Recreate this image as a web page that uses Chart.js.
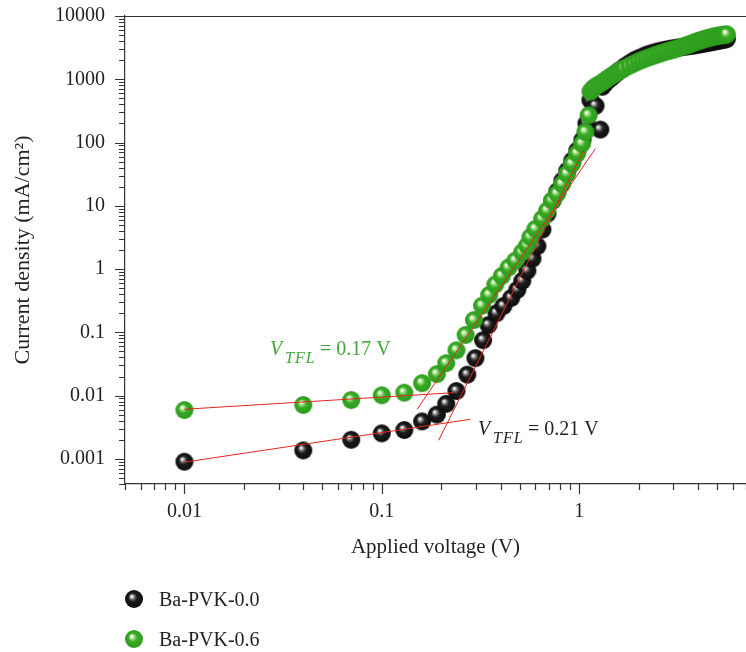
<!DOCTYPE html>
<html lang="en">
<head>
<meta charset="UTF-8">
<title>Current density vs applied voltage</title>
<script src="https://cdn.jsdelivr.net/npm/chart.js"></script>
<style>
  body { margin: 0; background: #fff; }
  .wrap { position: relative; width: 746px; height: 652px; }
  #jv { position: absolute; left: 0; top: 0; }
  .legend {
    position: absolute; left: 124px; top: 586px;
    font-family: 'Liberation Serif', 'DejaVu Serif', serif;
    font-size: 20px; color: #231f20;
  }
  .legend-item { display: flex; align-items: center; height: 26px; margin-bottom: 14px; }
  .legend-item canvas { margin-right: 15px; }
</style>
</head>
<body>
<div class="wrap">
  <canvas id="jv" width="746" height="652"></canvas>
  <div class="legend">
    <div class="legend-item"><canvas id="icon0" width="20" height="20"></canvas><span>Ba-PVK-0.0</span></div>
    <div class="legend-item"><canvas id="icon1" width="20" height="20"></canvas><span>Ba-PVK-0.6</span></div>
  </div>
</div>
<script>
// axis ticks
const xTicks = [0.01, 0.1, 1];
const xTickLabels = ['0.01', '0.1', '1'];
const yTicks = [0.001, 0.01, 0.1, 1, 10, 100, 1000, 10000];
const yTickLabels = ['0.001', '0.01', '0.1', '1', '10', '100', '1000', '10000'];

// Ba-PVK-0.0 (black)
const blackV = [0.01, 0.04, 0.07, 0.10, 0.13, 0.16, 0.19, 0.212, 0.239, 0.271, 0.298, 0.326, 0.347, 0.381, 0.413,
  0.453, 0.486, 0.515, 0.546, 0.58, 0.614, 0.651, 0.69, 0.732, 0.776, 0.822, 0.871, 0.923, 0.979, 1.038, 1.088,
  1.14, 1.21, 1.28, 1.31, 1.35, 1.4, 1.45, 1.5, 1.55, 1.6, 1.7, 1.8, 1.9, 2.0, 2.1, 2.2, 2.3, 2.4, 2.5, 2.6, 2.7, 2.8, 2.9, 3.0,
  3.1, 3.2, 3.3, 3.4, 3.5, 3.6, 3.7, 3.8, 3.9, 4.0, 4.1, 4.2, 4.3, 4.4, 4.5, 4.6, 4.7, 4.8, 4.9, 5.0, 5.1, 5.2,
  5.3, 5.4, 5.5, 5.6];
const blackJ = [0.0009, 0.00136, 0.002, 0.00253, 0.00285, 0.0039, 0.005, 0.0074, 0.0118, 0.0214, 0.039, 0.075, 0.13, 0.2, 0.26,
  0.35, 0.47, 0.65, 0.94, 1.46, 2.3, 4.2, 7.5, 12, 17, 25, 36, 52, 75, 110, 200,
  466, 380, 160, 760, 860, 960, 1050, 1150, 1260, 1380, 1600, 1800, 2000, 2150, 2300, 2450, 2550, 2650, 2750, 2830, 2900, 2970, 3030, 3080,
  3130, 3180, 3230, 3270, 3310, 3350, 3390, 3430, 3480, 3530, 3580, 3630, 3680, 3730, 3780, 3830, 3880, 3930, 3980, 4030, 4080, 4130,
  4180, 4230, 4280, 4330];

// Ba-PVK-0.6 (green)
const greenV = [0.01, 0.04, 0.07, 0.10, 0.13, 0.16, 0.19, 0.212, 0.239, 0.266, 0.293, 0.322, 0.35, 0.376, 0.406,
  0.439, 0.475, 0.514, 0.545, 0.566, 0.60, 0.649, 0.688, 0.729, 0.773, 0.819, 0.868, 0.92, 0.976, 1.034, 1.075,
  1.117, 1.14, 1.17, 1.2, 1.25, 1.3, 1.35, 1.4, 1.45, 1.5, 1.55, 1.6, 1.65, 1.7, 1.8, 1.9, 2.0, 2.1, 2.2, 2.3, 2.4, 2.5, 2.6, 2.7, 2.8, 2.9, 3.0,
  3.1, 3.2, 3.3, 3.4, 3.5, 3.6, 3.7, 3.8, 3.9, 4.0, 4.1, 4.2, 4.3, 4.4, 4.5, 4.6, 4.7, 4.8, 4.9, 5.0, 5.1, 5.2,
  5.3, 5.4, 5.5, 5.6];
const greenJ = [0.0059, 0.0071, 0.0085, 0.0101, 0.0111, 0.0157, 0.0218, 0.0325, 0.052, 0.091, 0.156, 0.263, 0.39, 0.57, 0.78,
  1.06, 1.36, 1.84, 2.35, 3.2, 4.3, 6.2, 8.4, 12.1, 15.5, 22, 32, 46, 67, 96, 147,
  270, 640, 700, 760, 820, 880, 960, 1040, 1120, 1200, 1280, 1360, 1430, 1500, 1640, 1780, 1920, 2040, 2160, 2270, 2380, 2480, 2580, 2680, 2780, 2860, 2940,
  3040, 3140, 3240, 3340, 3440, 3540, 3660, 3780, 3900, 4000, 4100, 4200, 4300, 4390, 4480, 4560, 4640, 4720, 4790, 4850, 4900, 4950,
  5000, 5040, 5080, 5120];

// fitted lines (end points)
const fitGreenLowV = [0.01, 0.231], fitGreenLowJ = [0.00607, 0.0111];
const fitGreenHighV = [0.151, 1.208], fitGreenHighJ = [0.00607, 80];
const fitBlackLowV = [0.01, 0.281], fitBlackLowJ = [0.000885, 0.00421];
const fitBlackHighV = [0.194, 1.054], fitBlackHighJ = [0.00196, 75];

const pts = (xs, ys) => xs.map((v, i) => ({ x: v, y: ys[i] }));
const FONT = "'Liberation Serif', 'DejaVu Serif', serif";
const INK = '#231f20';
const RED = '#e5261d';

// shaded ball markers
function drawSphere(g, cx, cy, r, stops) {
  const grad = g.createRadialGradient(cx - r * 0.28, cy - r * 0.32, 0, cx, cy, r);
  stops.forEach(s => grad.addColorStop(s[0], s[1]));
  g.fillStyle = grad;
  g.beginPath();
  g.arc(cx, cy, r, 0, Math.PI * 2);
  g.fill();
}
const blackStops = [[0, '#ffffff'], [0.1, '#e6e6e6'], [0.28, '#707070'], [0.48, '#1c1c1c'], [1, '#0c0c0c']];
const greenStops = [[0, '#ffffff'], [0.1, '#effbe8'], [0.28, '#94d878'], [0.5, '#38a925'], [1, '#2d9c1d']];
function sphere(stops, r) {
  const c = document.createElement('canvas');
  c.width = c.height = Math.ceil(r * 2 + 2);
  drawSphere(c.getContext('2d'), c.width / 2, c.height / 2, r, stops);
  return c;
}
const blackBall = sphere(blackStops, 9);
const greenBall = sphere(greenStops, 9);
drawSphere(document.getElementById('icon0').getContext('2d'), 10, 10, 9, blackStops);
drawSphere(document.getElementById('icon1').getContext('2d'), 10, 10, 9, greenStops);

// frame top line + log tick marks drawn outward
const tickMarks = {
  id: 'tickMarks',
  afterDraw(chart) {
    const { ctx, chartArea: a, scales: { x, y } } = chart;
    ctx.save();
    ctx.strokeStyle = '#333';
    ctx.lineWidth = 1.2;
    ctx.beginPath();
    ctx.moveTo(a.left, a.top + 0.5);
    ctx.lineTo(a.right, a.top + 0.5);
    for (let e = -4; e <= 4; e++) {
      for (let m = 1; m <= 9; m++) {
        const v = m * Math.pow(10, e);
        const len = m === 1 ? 10 : 6;
        if (v >= y.min * 0.9999 && v <= y.max * 1.0001) {
          const py = Math.round(y.getPixelForValue(v)) + 0.5;
          ctx.moveTo(a.left - len, py);
          ctx.lineTo(a.left, py);
        }
        if (v >= x.min * 0.9999 && v <= x.max * 1.0001) {
          const px = Math.round(x.getPixelForValue(v)) + 0.5;
          ctx.moveTo(px, a.bottom);
          ctx.lineTo(px, a.bottom + len);
        }
      }
    }
    ctx.stroke();
    ctx.restore();
  }
};

function drawVtfl(ctx, x, y, val, color) {
  ctx.save();
  ctx.fillStyle = color;
  ctx.textAlign = 'left';
  ctx.textBaseline = 'alphabetic';
  ctx.font = 'italic 20px ' + FONT;
  ctx.fillText('V', x, y);
  ctx.font = 'italic 16px ' + FONT;
  ctx.letterSpacing = '1px';
  ctx.fillText('TFL', x + 15, y + 8);
  ctx.letterSpacing = '0px';
  ctx.font = '20px ' + FONT;
  ctx.fillText('= ' + val + ' V', x + 50, y);
  ctx.restore();
}
const notes = {
  id: 'notes',
  afterDraw(chart) {
    drawVtfl(chart.ctx, 270, 355, '0.17', '#3fa535');
    drawVtfl(chart.ctx, 478, 435, '0.21', INK);
  }
};

const fitLine = (xs, ys) => ({
  data: pts(xs, ys), showLine: true, borderColor: RED, borderWidth: 1,
  pointRadius: 0, order: 0
});

new Chart(document.getElementById('jv'), {
  type: 'scatter',
  data: {
    datasets: [
      fitLine(fitGreenLowV, fitGreenLowJ),
      fitLine(fitGreenHighV, fitGreenHighJ),
      fitLine(fitBlackLowV, fitBlackLowJ),
      fitLine(fitBlackHighV, fitBlackHighJ),
      { label: 'Ba-PVK-0.6', data: pts(greenV, greenJ), pointStyle: greenBall, pointRadius: 9, order: 1 },
      { label: 'Ba-PVK-0.0', data: pts(blackV, blackJ), pointStyle: blackBall, pointRadius: 9, order: 2 }
    ]
  },
  options: {
    responsive: false,
    animation: false,
    layout: { autoPadding: false, padding: { top: 16, right: 0, bottom: 92, left: 0 } },
    plugins: { legend: { display: false }, tooltip: { enabled: false } },
    scales: {
      x: {
        type: 'logarithmic', min: 0.005, max: 7,
        afterBuildTicks: s => { s.ticks = xTicks.map(v => ({ value: v })); },
        afterFit: s => { s.height = 76; s.paddingLeft = 0; s.paddingRight = 0; },
        ticks: {
          callback: (v, i) => xTickLabels[i],
          font: { family: FONT, size: 20 }, color: INK, padding: 16,
          maxRotation: 0, autoSkip: false
        },
        grid: { display: false, drawTicks: false },
        border: { display: true, color: '#333', width: 1.2 },
        title: { display: true, text: 'Applied voltage (V)', font: { family: FONT, size: 21 }, color: INK, padding: 0 }
      },
      y: {
        type: 'logarithmic', min: 0.0004, max: 10000,
        afterBuildTicks: s => { s.ticks = yTicks.map(v => ({ value: v })); },
        afterFit: s => { s.width = 125; s.paddingTop = 0; s.paddingBottom = 0; },
        ticks: {
          callback: (v, i) => yTickLabels[i],
          font: { family: FONT, size: 20 }, color: INK, padding: 20, autoSkip: false
        },
        grid: { display: false, drawTicks: false },
        border: { display: true, color: '#333', width: 1.2 },
        title: { display: true, text: 'Current density (mA/cm²)', font: { family: FONT, size: 22 }, color: INK, padding: { top: 10, bottom: 0 } }
      }
    }
  },
  plugins: [tickMarks, notes]
});
</script>
</body>
</html>
